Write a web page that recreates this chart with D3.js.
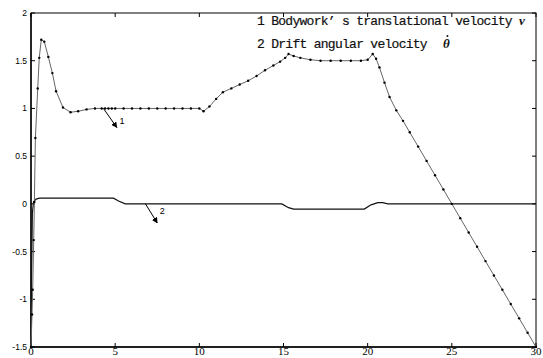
<!DOCTYPE html>
<html>
<head>
<meta charset="utf-8">
<script src="https://cdn.jsdelivr.net/npm/d3@7"></script>
<style>
  html, body { margin: 0; padding: 0; background: #fff; }
  svg { display: block; }
</style>
</head>
<body>
<svg id="chart" width="543" height="358"></svg>
<script>
'use strict';

// curve 1: bodywork translational velocity
const t1 = [0, 0.06, 0.1, 0.16, 0.2, 0.26, 0.4, 0.49, 0.61, 0.79, 1.03, 1.27, 1.49, 1.9, 2.35, 2.8, 3.3, 3.8,
  4.2, 4.4, 4.6, 4.8, 5.0, 5.5, 6, 6.5, 7, 7.5, 8, 8.5, 9, 9.5, 10, 10.25, 10.6, 11.0, 11.4, 11.9, 12.4, 12.9,
  13.4, 13.9, 14.4, 14.8, 15.1, 15.3, 15.6, 16.0, 16.6, 17.2, 17.8, 18.4, 19.0, 19.6, 20.0, 20.3, 20.5, 20.7,
  21.0, 21.3, 21.7, 22.1, 22.5, 23.0, 23.5, 24.0, 24.5, 25.0, 25.5, 26.0, 26.5, 27.0, 27.5, 28.0, 28.5, 29.0,
  29.5, 30];
const v1 = [-1.5, -1.16, -0.9, -0.38, 0.02, 0.69, 1.21, 1.53, 1.72, 1.70, 1.54, 1.37, 1.18, 1.01, 0.96, 0.97, 0.99, 1.0,
  1.0, 1.0, 1.0, 1.0, 1.0, 1.0, 1.0, 1.0, 1.0, 1.0, 1.0, 1.0, 1.0, 1.0, 1.0, 0.97, 1.02, 1.10, 1.17, 1.21, 1.25, 1.29,
  1.34, 1.40, 1.45, 1.49, 1.53, 1.57, 1.55, 1.53, 1.51, 1.50, 1.50, 1.50, 1.50, 1.50, 1.51, 1.57, 1.52, 1.43,
  1.27, 1.12, 0.98, 0.87, 0.75, 0.60, 0.45, 0.30, 0.15, 0.0, -0.15, -0.30, -0.45, -0.60, -0.75, -0.90, -1.05, -1.20,
  -1.35, -1.5];

// curve 2: drift angular velocity
const t2 = [0, 0.03, 0.08, 0.15, 0.3, 0.5, 4.9, 5.2, 5.6, 14.9, 15.3, 15.6, 19.8, 20.2, 20.6, 20.9, 21.2, 30];
const v2 = [-1.45, -0.8, -0.1, 0.02, 0.05, 0.06, 0.06, 0.03, 0.0, 0.0, -0.04, -0.055, -0.055, -0.01, 0.012, 0.012, 0.0, 0];

// ticks
const xTicks = [0, 5, 10, 15, 20, 25, 30];
const yTicks = [-1.5, -1, -0.5, 0, 0.5, 1, 1.5, 2];

const svg = d3.select('#chart');
const plotL = 31, plotR = 536, plotT = 13, plotB = 347;

const x = d3.scaleLinear().domain([0, 30]).range([plotL, plotR]);
const y = d3.scaleLinear().domain([-1.5, 2]).range([plotB, plotT]);

// ticks inside the frame
const g = svg.append('g');
xTicks.forEach(d => {
  g.append('line').attr('x1', x(d)).attr('x2', x(d)).attr('y1', plotB).attr('y2', plotB - 4).attr('stroke', '#000');
  g.append('line').attr('x1', x(d)).attr('x2', x(d)).attr('y1', plotT).attr('y2', plotT + 4).attr('stroke', '#000');
});
yTicks.forEach(d => {
  g.append('line').attr('x1', plotL).attr('x2', plotL + 4).attr('y1', y(d)).attr('y2', y(d)).attr('stroke', '#000');
  g.append('line').attr('x1', plotR).attr('x2', plotR - 4).attr('y1', y(d)).attr('y2', y(d)).attr('stroke', '#000');
});

// tick labels
svg.selectAll('.xl').data(xTicks).enter().append('text')
  .attr('x', d => x(d)).attr('y', 355)
  .attr('text-anchor', 'middle')
  .attr('font-family', 'Liberation Serif, serif').attr('font-size', 11)
  .text(d => d);

svg.selectAll('.yl').data(yTicks).enter().append('text')
  .attr('x', 27).attr('y', d => y(d))
  .attr('dy', '0.35em')
  .attr('text-anchor', 'end')
  .attr('font-family', 'Liberation Sans, Arial, sans-serif').attr('font-size', 8.5)
  .text(d => d);

// frame
svg.append('rect')
  .attr('x', plotL).attr('y', plotT).attr('width', plotR - plotL).attr('height', plotB - plotT)
  .attr('fill', 'none').attr('stroke', '#000').attr('stroke-width', 1);
svg.append('line').attr('x1', plotL).attr('x2', plotR).attr('y1', plotB).attr('y2', plotB)
  .attr('stroke', '#000').attr('stroke-width', 1.6);
svg.append('line').attr('x1', plotL).attr('x2', plotL).attr('y1', plotT).attr('y2', plotB)
  .attr('stroke', '#000').attr('stroke-width', 1.4);

const line = d3.line().x(d => x(d[0])).y(d => y(d[1]));
const pts1 = t1.map((t, i) => [t, v1[i]]);
const pts2 = t2.map((t, i) => [t, v2[i]]);

svg.append('path').datum(pts2)
  .attr('d', line).attr('fill', 'none').attr('stroke', '#111').attr('stroke-width', 1.2);

svg.append('path').datum(pts1)
  .attr('d', line).attr('fill', 'none').attr('stroke', '#666').attr('stroke-width', 1);

svg.selectAll('.dot').data(pts1).enter().append('circle')
  .attr('cx', d => x(d[0])).attr('cy', d => y(d[1])).attr('r', 1.2).attr('fill', '#000');

// annotation arrows
const defs = svg.append('defs');
defs.append('marker').attr('id', 'arr')
  .attr('viewBox', '0 0 10 10').attr('refX', 9).attr('refY', 5)
  .attr('markerWidth', 6).attr('markerHeight', 6).attr('orient', 'auto')
  .append('path').attr('d', 'M0,0 L10,5 L0,10 z').attr('fill', '#000');

const arrows = [
  {from: [4.3, 1.0], to: [5.1, 0.8], label: '1', at: [5.25, 0.84]},
  {from: [6.8, 0.0], to: [7.5, -0.2], label: '2', at: [7.65, -0.11]}
];
arrows.forEach(a => {
  svg.append('line')
    .attr('x1', x(a.from[0])).attr('y1', y(a.from[1]))
    .attr('x2', x(a.to[0])).attr('y2', y(a.to[1]))
    .attr('stroke', '#000').attr('stroke-width', 1).attr('marker-end', 'url(#arr)');
  svg.append('text').attr('x', x(a.at[0])).attr('y', y(a.at[1]))
    .attr('font-family', 'Liberation Sans, Arial, sans-serif').attr('font-size', 9)
    .attr('fill', '#000')
    .text(a.label);
});

// legend text: monospace, squeezed a bit like the original
const leg = svg.append('g').attr('fill', '#111');
const legendLines = [
  {text: '1 Bodywork’ s translational velocity', sym: 'v', y: 25},
  {text: '2 Drift angular velocity', sym: 'θ', y: 48}
];
legendLines.forEach((d, i) => {
  const txt = leg.append('text').attr('x', 257).attr('y', d.y)
    .attr('font-family', 'Liberation Mono, monospace').attr('font-size', 13)
    .attr('letter-spacing', -0.72)
    .attr('stroke', '#111').attr('stroke-width', 0.2)
    .text(d.text);
  const end = 257 + txt.node().getComputedTextLength();
  const sx = end + (i === 0 ? 7 : 16);
  leg.append('text').attr('x', sx).attr('y', d.y)
    .attr('font-family', 'Liberation Serif, serif').attr('font-weight', 'bold')
    .attr('font-style', 'italic').attr('font-size', 13)
    .text(d.sym);
  if (i === 1) {
    leg.append('circle').attr('cx', sx + 4.5).attr('cy', d.y - 12).attr('r', 1);
  }
});
</script>
</body>
</html>
